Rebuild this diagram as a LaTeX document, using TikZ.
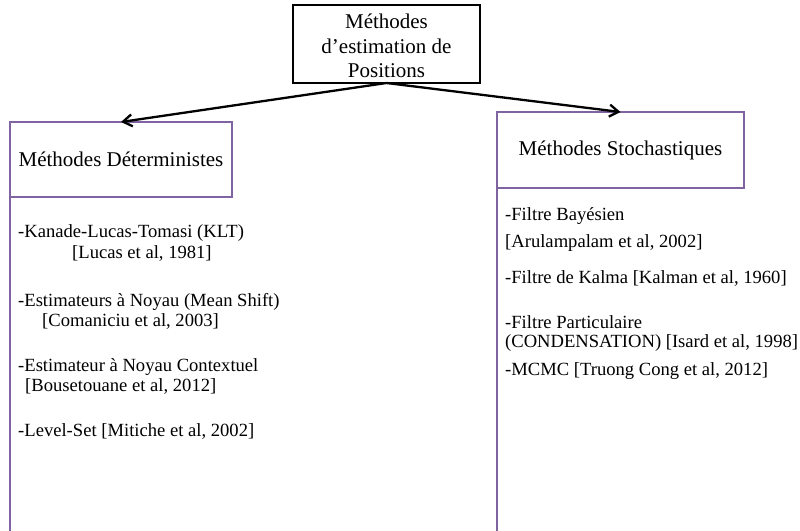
\documentclass[tikz,border=0pt]{standalone}
\usepackage{fontspec}
\setmainfont{Liberation Serif}
\usetikzlibrary{arrows.meta}
\definecolor{boxpurple}{HTML}{8064A2}
\begin{document}
\begin{tikzpicture}[x=1pt,y=-1pt,
  headbox/.style={draw=boxpurple,line width=2.4pt,inner sep=0pt,outer sep=0pt,
    minimum height=#1,font=\fontsize{21}{25}\selectfont},
  topbox/.style={draw=black,line width=2.2pt,inner sep=0pt,outer sep=0pt},
  toptxt/.style={anchor=base,inner sep=0pt,font=\fontsize{21}{25}\selectfont},
  item/.style={anchor=base west,inner sep=0pt,font=\fontsize{18.6}{22}\selectfont},
  colline/.style={draw=boxpurple,line width=2.4pt},
  arr/.style={draw=black,line width=2.3pt,-{Straight Barb[length=9pt,width=12pt,line width=2.3pt]}}
]
\useasboundingbox (0,0) rectangle (800,530);
% top box
\node[topbox,minimum width=187pt,minimum height=78pt] (top) at (386.5,44) {};
\node[toptxt] (t1) at (386.5,28) {Méthodes};
\node[toptxt] (t2) at (386.5,53) {d’estimation de};
\node[toptxt] (t3) at (386.5,77.5) {Positions};
% headers
\node[headbox=75pt,minimum width=222pt] (left) at (121,159.5) {Méthodes Déterministes};
\node[headbox=76pt,minimum width=247pt] (right) at (620.5,150) {Méthodes Stochastiques};
% arrows
\draw[arr] (top.south) -- (left.north);
\draw[arr] (top.south) -- (right.north);
% column lines
\coordinate (leftend) at (10,532);
\coordinate (rightend) at (497,532);
\draw[colline] (left.south west) -- (leftend);
\draw[colline] (right.south west) -- (rightend);
% left items
\node[item] (l1) at (18,237.5) {-Kanade-Lucas-Tomasi (KLT)};
\node[item] (l2) at (72,258) {[Lucas et al, 1981]};
\node[item] (l3) at (18,306) {-Estimateurs à Noyau (Mean Shift)};
\node[item] (l4) at (42,326) {[Comaniciu et al, 2003]};
\node[item] (l5) at (18,371) {-Estimateur à Noyau Contextuel};
\node[item] (l6) at (25,391) {[Bousetouane et al, 2012]};
\node[item] (l7) at (18,436.5) {-Level-Set [Mitiche et al, 2002]};
% right items
\node[item] (r1) at (505,220.5) {-Filtre Bayésien};
\node[item] (r2) at (505,247) {[Arulampalam et al, 2002]};
\node[item] (r3) at (505,283) {-Filtre de Kalma [Kalman et al, 1960]};
\node[item] (r4) at (505,328) {-Filtre Particulaire};
\node[item] (r5) at (505,347) {(CONDENSATION) [Isard et al, 1998]};
\node[item] (r6) at (505,375) {-MCMC [Truong Cong et al, 2012]};
\end{tikzpicture}
\end{document}
